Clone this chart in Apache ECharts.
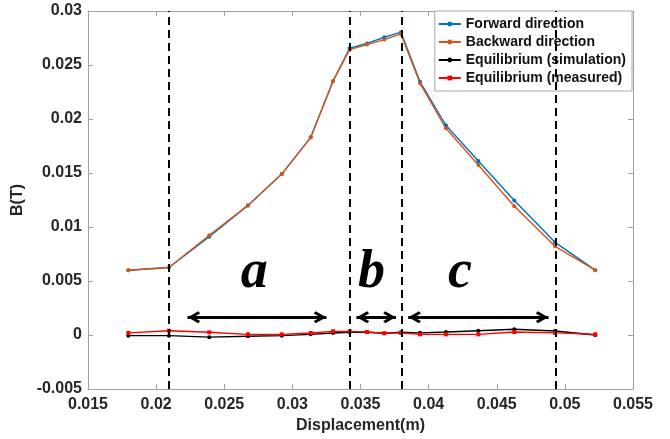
<!DOCTYPE html>
<html><head><meta charset="utf-8">
<script src="https://cdn.jsdelivr.net/npm/echarts/dist/echarts.min.js"></script>
<style>html,body{margin:0;padding:0;background:#fff}#c{width:670px;height:439px}</style>
</head><body><div id="c"></div>
<script>
// ---- data ----
const displacement = [0.01796,0.02094,0.0239,0.02674,0.02922,0.03135,0.03298,0.0342,0.03548,0.03675,0.03797,0.03937,0.04127,0.04365,0.04629,0.04928,0.05223];
const forward  = [0.0060,0.00625,0.0091,0.0120,0.0149,0.0183,0.0235,0.02655,0.0270,0.02757,0.02804,0.02345,0.01942,0.01611,0.01245,0.00858,0.0060];
const backward = [0.0060,0.00625,0.00923,0.0120,0.0149,0.0183,0.0235,0.02642,0.02689,0.02735,0.02788,0.0233,0.01914,0.01574,0.01192,0.00821,0.0060];
const eqSim  = [-0.00006,-0.00006,-0.0002,-0.00012,-0.00006,0.00006,0.00019,0.00025,0.00025,0.00016,0.00025,0.0002,0.00028,0.0004,0.00053,0.00037,0.0];
const eqMeas = [0.0002,0.0004,0.00025,0.00006,0.00006,0.00019,0.00034,0.00034,0.00028,0.00016,0.0002,0.00006,0.00006,0.00006,0.00028,0.0002,0.00006];
const seriesNames = ['Forward direction','Backward direction','Equilibrium (simulation)','Equilibrium (measured)'];
const boundaries = [0.0209, 0.0342, 0.0380, 0.0493];
const regionNames = ['a','b','c'];
const regionLabelX = [0.0272, 0.0358, 0.0423];
const regionLabelY = 0.0057;
const arrowStart = [0.0223, 0.0347, 0.0385];
const arrowEnd   = [0.0325, 0.0376, 0.0488];
const arrowY = 0.00165;
const xTicks = {min:0.015, max:0.055, step:0.005};
const yTicks = {min:-0.005, max:0.03, step:0.005};

const pair = arr => displacement.map((x,i)=>[x, arr[i]]);
const fmt = v => String(+v.toFixed(4));
const axisColor = '#a0a0a0';
const txt = '#262626';
const FONT = 'Liberation Sans, Arial, sans-serif';
// open chevron, apex at the centre of its bounding box (degenerate first subpath pads the box)
const chevron = 'path://M6,-13 L6,-13 Z M6,0 L12,10.5 L9.8,12.5 L6,5.6 L2.2,12.5 L0,10.5 Z';

const chart = echarts.init(document.getElementById('c'), null, {renderer:'canvas'});
const mkLineSeries = (name, data, color, symbol, size) => ({
  name, type:'line', data: pair(data), symbol, symbolSize:size, showSymbol:true,
  lineStyle:{color, width:1.4}, itemStyle:{color}, animation:false
});
const s0 = mkLineSeries(seriesNames[0], forward, '#0072BD', 'circle', 4);
s0.markLine = {
  silent:true, symbol:['none','none'], animation:false,
  lineStyle:{color:'#000', type:[8,5], width:2}, label:{show:false},
  data: boundaries.map(b=>[{coord:[b, yTicks.min]},{coord:[b, yTicks.max]}])
};
const s1 = mkLineSeries(seriesNames[1], backward, '#D95319', 'circle', 4);
s1.markLine = {
  silent:true, symbol:[chevron, chevron], symbolSize:[12,25.5], animation:false,
  lineStyle:{color:'#000', type:'solid', width:3}, itemStyle:{color:'#000'}, label:{show:false},
  data: arrowStart.map((s,i)=>[{coord:[s, arrowY]},{coord:[arrowEnd[i], arrowY]}])
};
s1.markPoint = {
  silent:true, symbol:'circle', symbolSize:0, animation:false,
  label:{show:true, position:'inside', formatter:'{b}', color:'#000', fontFamily:'Liberation Serif, Times New Roman, serif', fontStyle:'italic', fontWeight:'bold', fontSize:54},
  data: regionNames.map((n,i)=>({name:n, coord:[regionLabelX[i], regionLabelY]}))
};
const s2 = mkLineSeries(seriesNames[2], eqSim, '#000000', 'circle', 4);
const s3 = mkLineSeries(seriesNames[3], eqMeas, '#FF0000', 'rect', 4);

const baseX = {type:'value', min:xTicks.min, max:xTicks.max, interval:xTicks.step, splitLine:{show:false},
  axisLine:{show:true, onZero:false, lineStyle:{color:axisColor, width:1}},
  axisTick:{show:true, inside:true, length:5, lineStyle:{color:axisColor}}};
const baseY = {type:'value', min:yTicks.min, max:yTicks.max, interval:yTicks.step, splitLine:{show:false},
  axisLine:{show:true, onZero:false, lineStyle:{color:axisColor, width:1}},
  axisTick:{show:true, inside:true, length:5, lineStyle:{color:axisColor}}};

chart.setOption({
  backgroundColor:'#fff',
  animation:false,
  grid:{left:88, right:37, top:11, bottom:50, containLabel:false},
  legend:{
    orient:'vertical', top:11, right:38, backgroundColor:'#fff', borderColor:'#aaaaaa', borderWidth:1,
    padding:[6,6,6,3], itemGap:4, itemWidth:22, itemHeight:6,
    textStyle:{fontFamily:FONT, fontWeight:'bold', fontSize:14, color:'#111', padding:[1,0,0,0]},
    data: seriesNames
  },
  xAxis:[
    Object.assign({}, baseX, {position:'bottom', name:'Displacement(m)', nameLocation:'middle', nameGap:28,
      nameTextStyle:{fontFamily:FONT, fontWeight:'bold', fontSize:16, color:txt},
      axisLabel:{formatter:fmt, margin:8, fontFamily:FONT, fontWeight:'bold', fontSize:16, color:txt}}),
    Object.assign({}, baseX, {position:'top', axisLabel:{show:false}})
  ],
  yAxis:[
    Object.assign({}, baseY, {position:'left', name:'B(T)', nameLocation:'middle', nameGap:55,
      nameTextStyle:{fontFamily:FONT, fontWeight:'bold', fontSize:16, color:txt},
      axisLabel:{formatter:fmt, margin:6, fontFamily:FONT, fontWeight:'bold', fontSize:16, color:txt}}),
    Object.assign({}, baseY, {position:'right', axisLabel:{show:false}})
  ],
  series:[s0, s1, s2, s3]
});
</script></body></html>
